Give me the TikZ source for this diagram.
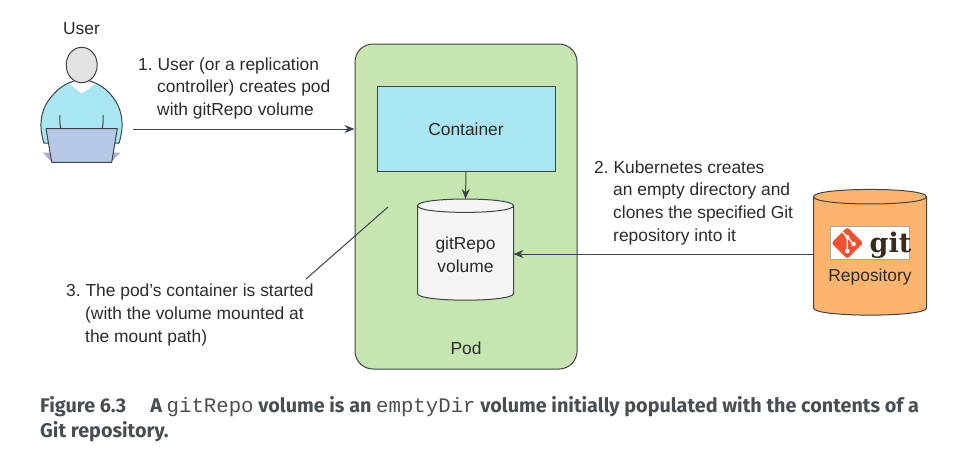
\documentclass[tikz,border=0pt]{standalone}
\usepackage{fontspec}
\setmainfont{Liberation Sans}
\newfontfamily\capfont{Fira Sans}
\newfontfamily\capmono{Liberation Mono}
\newfontfamily\gitfont{DejaVu Serif}
\usetikzlibrary{shapes.geometric,arrows.meta}
\definecolor{ink}{HTML}{2B2B2B}
\definecolor{edge}{HTML}{3C4448}
\definecolor{podgreen}{HTML}{C6E5B1}
\definecolor{boxblue}{HTML}{A9E6F1}
\definecolor{volgray}{HTML}{F4F4F4}
\definecolor{repoorange}{HTML}{FDB56E}
\definecolor{skin}{HTML}{E3E3E3}
\definecolor{laptop}{HTML}{B6C8E6}
\definecolor{keys}{HTML}{B5AEDC}
\definecolor{gitred}{HTML}{F05133}
\definecolor{gitdark}{HTML}{3A2A18}
\definecolor{capink}{HTML}{474F55}
\tikzset{
  lbl/.style={font=\fontsize{17.4}{22.6}\selectfont,text=ink,inner sep=0pt},
  steplbl/.style={lbl,align=left,anchor=north west},
  shape line/.style={draw=edge,line width=1pt},
  anchorbox/.style={inner sep=0pt,outer sep=0pt},
  arr/.style={draw=edge,line width=1pt,-{Stealth[length=10pt,width=8pt]}},
  plainline/.style={draw=edge,line width=1pt},
  caplbl/.style={font=\capfont\bfseries\fontsize{19.8}{24}\selectfont,text=capink,inner sep=0pt,anchor=base west}
}
\newcommand{\gitcode}[1]{{\mdseries\capmono\fontsize{20.7}{24}\selectfont #1}}
\frenchspacing
\begin{document}
\begin{tikzpicture}[x=1pt,y=-1pt]
\useasboundingbox (0,0) rectangle (959,461);
% Pod
\node[shape line,fill=podgreen,rounded corners=18pt,minimum width=222pt,minimum height=325pt,inner sep=0pt] (pod) at (466,206.5) {};
\node[lbl,anchor=base] (podlbl) at (466,354) {Pod};
\node[shape line,fill=boxblue,minimum width=178pt,minimum height=85pt,inner sep=0pt] (cont) at (466,128.5) {};
\node[lbl] (contlbl) at (466,129) {Container};
% Volume cylinder
\draw[shape line,fill=volgray] (417.5,205.7) .. controls (417.5,196.8) and (513.5,196.8) .. (513.5,205.7) -- (513.5,293.5) .. controls (513.5,302.4) and (417.5,302.4) .. (417.5,293.5) -- cycle;
\draw[shape line] (417.5,205.7) .. controls (417.5,214.6) and (513.5,214.6) .. (513.5,205.7);
\node[anchorbox,minimum width=96pt,minimum height=101pt] (vol) at (465.5,249.5) {};
\node[lbl,align=center,anchor=center] (vollbl) at (465.5,255) {gitRepo\\volume};
% Repository cylinder
\draw[shape line,fill=repoorange] (813.5,196.7) .. controls (813.5,187) and (926.5,187) .. (926.5,196.7) -- (926.5,308) .. controls (926.5,317.5) and (813.5,317.5) .. (813.5,308) -- cycle;
\draw[shape line] (813.5,196.7) .. controls (813.5,206.4) and (926.5,206.4) .. (926.5,196.7);
\node[anchorbox,minimum width=113pt,minimum height=126pt] (repo) at (870,252) {};
\node[draw=black!35,line width=1.2pt,fill=white,minimum width=78.5pt,minimum height=33pt,inner sep=0pt] (logo) at (870,242.7) {};
\node[rectangle,fill=gitred,rounded corners=2.5pt,rotate=45,minimum size=22.5pt,inner sep=0pt] (gitmark) at (847.3,243) {};
\node[inner sep=0pt,anchor=base west,font=\gitfont\bfseries\fontsize{27}{27}\selectfont,text=gitdark] (gittext) at (869.5,252.5) {git};
\begin{scope}[line width=1.3pt,white]
\coordinate (g1) at (847.3,237);
\coordinate (g2) at (847.3,251);
\coordinate (g3) at (853.5,244);
\coordinate (g0) at (840.5,230);
\draw (g0) -- (g1) -- (g2);
\draw (g1) -- (g3);
\fill (g1) circle (2pt) (g2) circle (2.3pt) (g3) circle (2.3pt);
\end{scope}
\node[lbl,anchor=base] (repolbl) at (870,281) {Repository};
% Connectors
\draw[arr] (cont.south) -- (vol.north);
\draw[arr] ([yshift=-2pt]repo.west) -- ([yshift=-2pt]repo.west -| vol.east);
\coordinate (s3a) at (388,207);
\coordinate (s3b) at (306,279);
\draw[plainline] (s3a) -- (s3b);
\coordinate (userout) at (133,129);
\draw[arr] (userout) -- (userout -| pod.west);
% Labels
\node[steplbl] (s1) at (138,57.5) {1. User (or a replication\\\hspace*{19pt}controller) creates pod\\\hspace*{19pt}with gitRepo volume};
\node[steplbl] (s2) at (594,160.5) {2. Kubernetes creates\\\hspace*{19pt}an empty directory and\\\hspace*{19pt}clones the specified Git\\\hspace*{19pt}repository into it};
\node[steplbl] (s3) at (66,284) {3. The pod’s container is started\\\hspace*{19pt}(with the volume mounted at\\\hspace*{19pt}the mount path)};
\node[lbl,anchor=base] (userlbl) at (81.5,34) {User};
% User figure
\draw[shape line,fill=boxblue] (44,143) .. controls (38,125) and (41,108) .. (52,96) .. controls (60,86) and (71,80) .. (81.7,80) .. controls (93,80) and (104,86) .. (112,96) .. controls (122,108) and (125,125) .. (119,143) -- cycle;
\fill[white] (70,84) -- (81.7,93.5) -- (95,84) -- (88,81) -- (75,81) -- cycle;
\draw[shape line,fill=skin] (81.7,65) ellipse (15.5pt and 17.7pt);
\draw[plainline] (60,115) .. controls (59.5,120) and (60,125) .. (60.8,129);
\draw[plainline] (103,115) .. controls (103.5,120) and (103,125) .. (102.2,129);
\fill[keys] (42.5,152.7) -- (50,152.7) -- (52,162) -- cycle;
\fill[keys] (120.5,152.7) -- (113,152.7) -- (111,162) -- cycle;
\draw[shape line,fill=laptop,line join=round] (46,128.7) -- (117.3,128.7) -- (111.7,162.3) -- (51.7,162.3) -- cycle;
% Caption
\node[caplbl] (cap1) at (40,412) {Figure 6.3\hspace{24pt}A \gitcode{gitRepo} volume is an \gitcode{emptyDir} volume initially populated with the contents of a};
\node[caplbl] (cap2) at (40,437) {Git repository.};
\end{tikzpicture}
\end{document}
